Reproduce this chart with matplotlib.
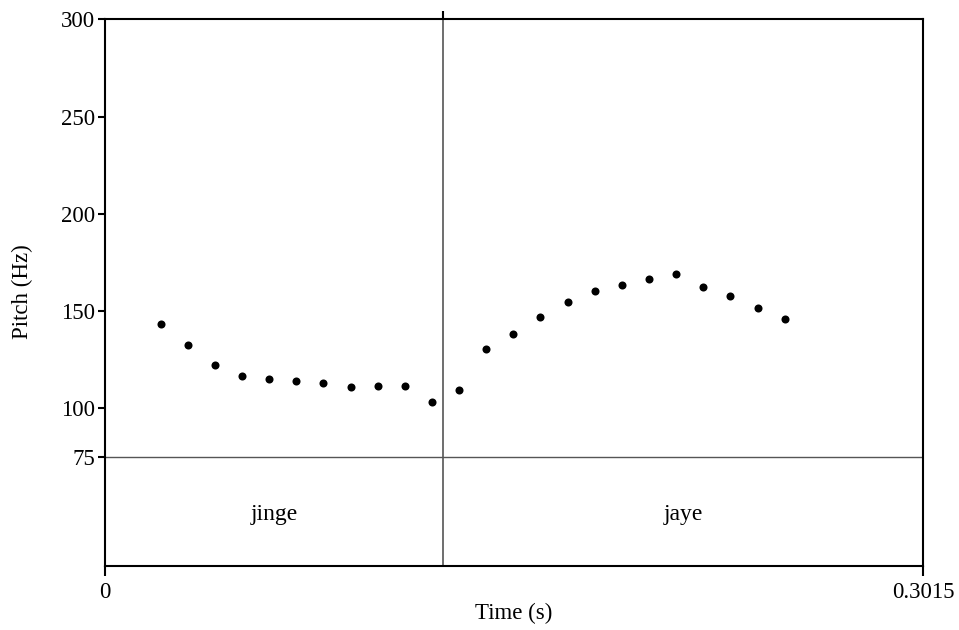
import matplotlib
matplotlib.use("Agg")
import matplotlib.pyplot as plt

# pitch track (s, Hz)
times = [0.0205, 0.0305, 0.0405, 0.0505, 0.0605, 0.0705, 0.0805, 0.0905,
         0.1005, 0.1105, 0.1205, 0.1305, 0.1405, 0.1505, 0.1605, 0.1705,
         0.1805, 0.1905, 0.2005, 0.2105, 0.2205, 0.2305, 0.2405, 0.2505]
pitch = [143.3, 132.7, 122.5, 116.7, 115.1, 114.3, 113.2, 111.2,
         111.7, 111.4, 103.5, 109.3, 130.3, 138.3, 146.9, 154.9,
         160.4, 163.3, 166.7, 169.3, 162.6, 157.8, 151.7, 145.7]

t_end = 0.3015
boundary = 0.1246
tier_labels = ["jinge", "jaye"]
yticks = [75, 100, 150, 200, 250, 300]

plt.rcParams["font.family"] = ["Liberation Serif", "DejaVu Serif"]
FS = 16.5

fig = plt.figure(figsize=(9.59, 6.30), dpi=100)
ax = fig.add_axes([105 / 959, 1 - 565.7 / 630, 818 / 959, 546.4 / 630])

# pitch axis runs 75..300, the text tier sits below 75
ax.set_xlim(0, t_end)
ax.set_ylim(19.1, 300)

ax.plot(times, pitch, "o", color="black", markersize=5.8, markeredgewidth=0)

ax.axhline(75, color="#555555", linewidth=1.0)
ax.axvline(boundary, color="#555555", linewidth=1.2)

# tier labels centred in their intervals
ax.text(boundary / 2, 45.5, tier_labels[0], ha="center", va="center", fontsize=17)
ax.text((boundary + t_end) / 2, 45.5, tier_labels[1], ha="center", va="center", fontsize=17)

for s in ax.spines.values():
    s.set_linewidth(1.5)

ax.set_yticks(yticks)
ax.set_yticklabels([str(v) for v in yticks], fontsize=FS)
ax.set_xticks([0, t_end])
ax.set_xticklabels(["0", "0.3015"], fontsize=FS)
ax.tick_params(axis="y", direction="out", length=5, width=1.5, pad=2)
ax.tick_params(axis="x", direction="out", length=7, width=1.5, pad=5)

top = ax.secondary_xaxis("top")
top.set_xticks([boundary])
top.set_xticklabels([""])
top.tick_params(direction="out", length=6, width=1.5)
top.spines["top"].set_visible(False)

fig.text(22 / 959, 1 - 292 / 630, "Pitch (Hz)", rotation=90,
         ha="center", va="center", fontsize=FS)
fig.text(514 / 959, 1 - 613 / 630, "Time (s)", ha="center", va="center", fontsize=FS)

fig.savefig("out.png", dpi=100)
